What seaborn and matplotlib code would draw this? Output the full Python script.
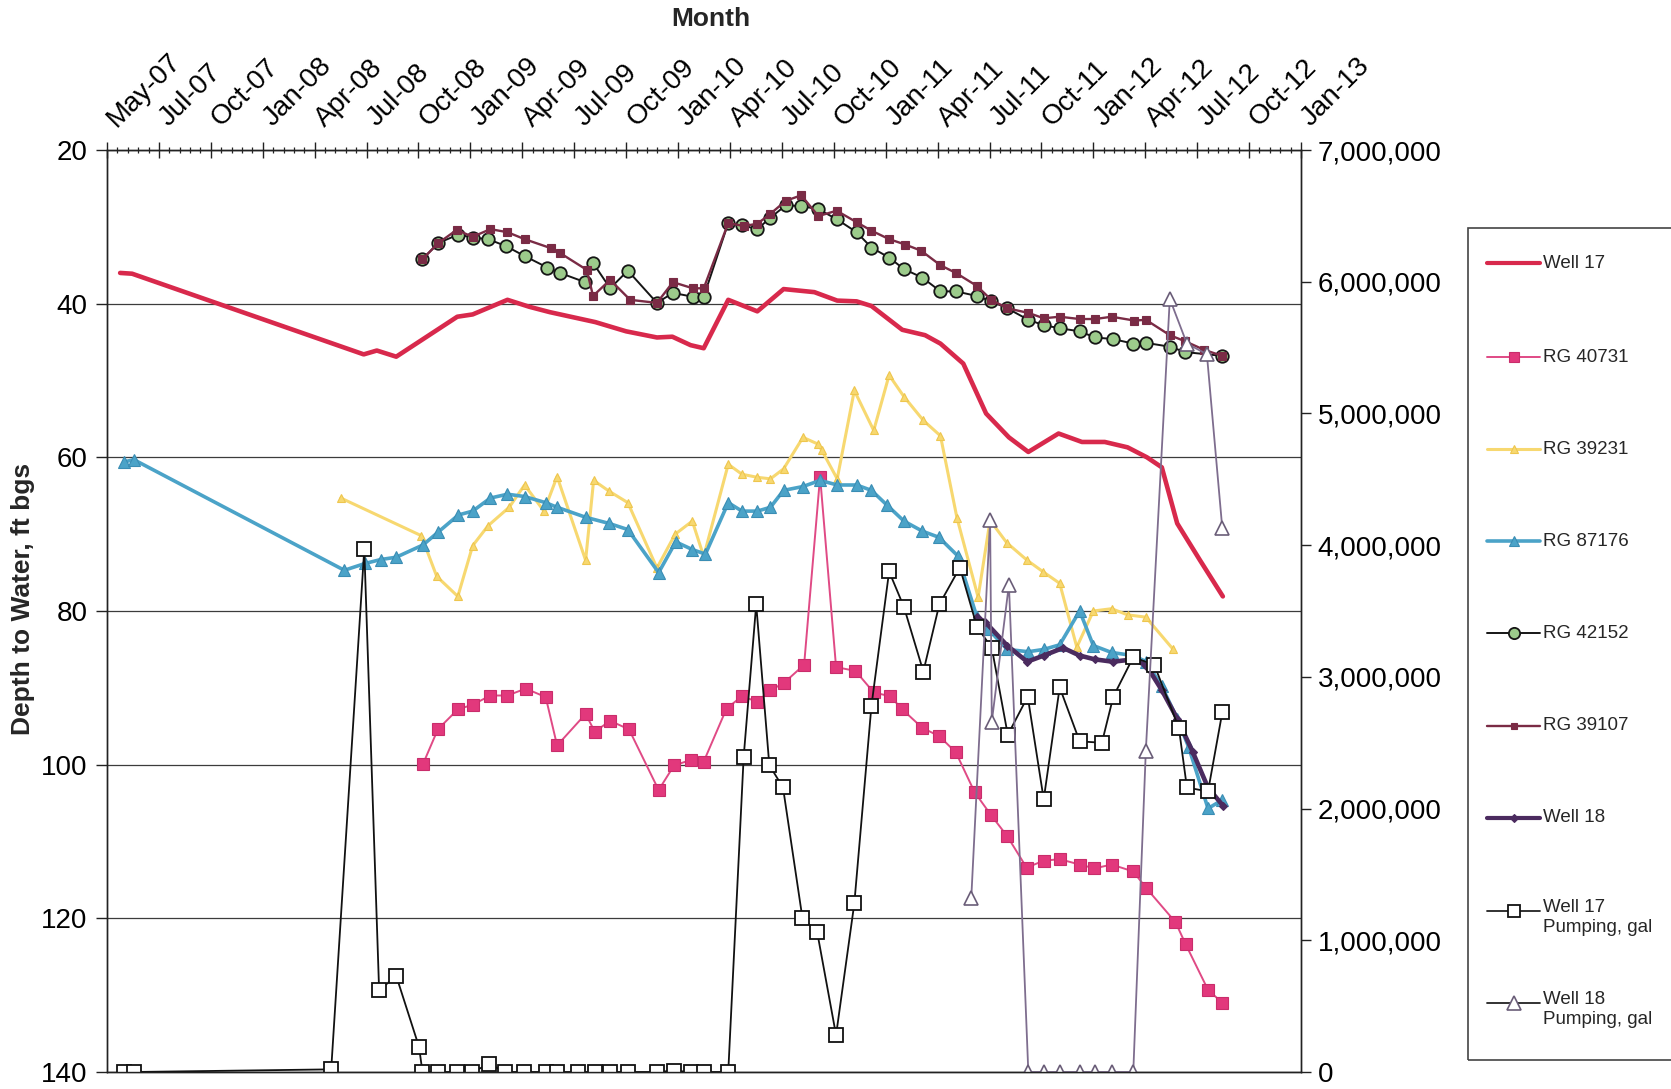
import numpy as np
import pandas as pd
import matplotlib
matplotlib.use("Agg")
import matplotlib.pyplot as plt
import matplotlib.dates as mdates
import matplotlib.transforms as mtransforms
from matplotlib.lines import Line2D
from matplotlib.patches import Rectangle
from matplotlib.ticker import FixedLocator, FuncFormatter
import seaborn as sns

# ---------------------------------------------------------------- data
START = "2007-05-01"          # first tick of the Month axis; x values are days after it
TICK_STEP_DAYS = 91           # Excel date axis major unit
MINOR_PER_MAJOR = 5
TICK_LABELS = ["May-07", "Jul-07", "Oct-07", "Jan-08", "Apr-08", "Jul-08", "Oct-08",
               "Jan-09", "Apr-09", "Jul-09", "Oct-09", "Jan-10", "Apr-10", "Jul-10",
               "Oct-10", "Jan-11", "Apr-11", "Jul-11", "Oct-11", "Jan-12", "Apr-12",
               "Jul-12", "Oct-12", "Jan-13"]
DEPTH_TICKS = [20, 40, 60, 80, 100, 120, 140]
GAL_TICKS = [0, 1000000, 2000000, 3000000, 4000000, 5000000, 6000000, 7000000]

well17_day = [23, 44, 450, 473, 507, 614, 641, 702, 740, 776, 856, 910, 964, 991, 1023, 1046,
              1089, 1140, 1186, 1240, 1280, 1314, 1340, 1394, 1434, 1461, 1501, 1541, 1581,
              1615, 1668, 1709, 1749, 1789, 1823, 1849, 1876, 1916, 1956]
well17_depth = [36.0, 36.1, 46.6, 46.1, 46.9, 41.7, 41.4, 39.5, 40.4, 41.1, 42.4, 43.6, 44.4,
                44.3, 45.4, 45.8, 39.5, 41.0, 38.1, 38.5, 39.6, 39.7, 40.3, 43.4, 44.1, 45.2,
                47.8, 54.3, 57.4, 59.3, 56.9, 58.0, 58.0, 58.7, 60.0, 61.3, 68.6, 73.4, 78.1]

rg40731_day = [554, 580, 615, 641, 672, 702, 734, 769, 789, 839, 855, 882, 915, 967, 994, 1023,
               1046, 1086, 1113, 1140, 1163, 1186, 1222, 1250, 1278, 1312, 1344, 1373, 1394,
               1429, 1459, 1488, 1521, 1550, 1578, 1612, 1642, 1670, 1705, 1731, 1761, 1799,
               1821, 1873, 1891, 1930, 1955]
rg40731_depth = [99.9, 95.4, 92.8, 92.2, 91.0, 91.0, 90.1, 91.2, 97.5, 93.4, 95.7, 94.3, 95.4,
                 103.3, 100.1, 99.4, 99.6, 92.7, 91.1, 91.8, 90.3, 89.4, 87.0, 62.5, 87.3, 87.8,
                 90.6, 91.1, 92.8, 95.2, 96.3, 98.4, 103.6, 106.6, 109.3, 113.4, 112.5, 112.3,
                 113.0, 113.5, 113.0, 113.9, 116.0, 120.5, 123.4, 129.3, 131.0]

rg39231_day = [410, 551, 578, 615, 641, 668, 705, 732, 766, 789, 839, 853, 880, 913, 964, 996,
               1026, 1046, 1089, 1113, 1140, 1163, 1186, 1220, 1247, 1253, 1280, 1310, 1344,
               1371, 1397, 1431, 1461, 1490, 1527, 1548, 1577, 1613, 1641, 1670, 1700, 1729,
               1761, 1789, 1821, 1869]
rg39231_depth = [65.3, 70.2, 75.5, 78.1, 71.5, 68.9, 66.5, 63.6, 67.0, 62.5, 73.4, 63.0, 64.4,
                 65.9, 74.4, 70.0, 68.3, 72.9, 60.9, 62.2, 62.6, 62.8, 61.5, 57.4, 58.3, 59.1,
                 62.8, 51.3, 56.5, 49.3, 52.1, 55.2, 57.2, 67.9, 78.2, 68.2, 71.1, 73.4, 74.9,
                 76.4, 84.7, 80.0, 79.7, 80.5, 80.8, 85.0]

rg87176_day = [30, 47, 416, 453, 480, 507, 554, 581, 616, 641, 672, 702, 732, 769, 789, 839, 880,
               913, 967, 997, 1026, 1049, 1089, 1113, 1140, 1163, 1186, 1220, 1250, 1280, 1314,
               1340, 1367, 1397, 1429, 1458, 1491, 1525, 1545, 1578, 1615, 1642, 1670, 1705,
               1729, 1761, 1799, 1822, 1849, 1876, 1896, 1930, 1955]
rg87176_depth = [60.6, 60.3, 74.7, 73.8, 73.3, 73.0, 71.4, 69.7, 67.5, 67.0, 65.3, 64.8, 65.1,
                 65.9, 66.5, 67.8, 68.6, 69.4, 75.0, 71.0, 72.0, 72.6, 65.9, 67.0, 67.0, 66.5,
                 64.3, 63.8, 63.0, 63.6, 63.6, 64.3, 66.2, 68.3, 69.6, 70.4, 72.8, 80.8, 82.4,
                 85.0, 85.3, 85.0, 84.4, 80.0, 84.5, 85.4, 85.8, 86.6, 89.8, 94.0, 97.7, 105.7,
                 104.6]

rg42152_day = [553, 581, 616, 641, 668, 699, 732, 772, 794, 838, 852, 882, 913, 964, 992, 1027,
               1046, 1089, 1113, 1140, 1163, 1190, 1217, 1247, 1279, 1314, 1340, 1371, 1397,
               1429, 1461, 1488, 1525, 1550, 1578, 1615, 1642, 1670, 1705, 1732, 1763, 1799,
               1821, 1863, 1890, 1955]
rg42152_depth = [34.2, 32.1, 31.0, 31.4, 31.6, 32.5, 33.8, 35.3, 36.0, 37.2, 34.7, 38.0, 35.7,
                 39.9, 38.6, 39.1, 39.1, 29.5, 29.8, 30.3, 28.8, 27.2, 27.3, 27.7, 29.0, 30.7,
                 32.7, 34.0, 35.5, 36.6, 38.4, 38.4, 39.0, 39.7, 40.6, 42.1, 42.8, 43.2, 43.6,
                 44.4, 44.6, 45.2, 45.1, 45.6, 46.3, 46.8]

rg39107_day = [553, 581, 613, 641, 672, 702, 732, 779, 794, 841, 852, 882, 917, 964, 992, 1027,
               1046, 1089, 1116, 1140, 1163, 1190, 1217, 1247, 1279, 1314, 1340, 1371, 1399,
               1427, 1461, 1488, 1525, 1550, 1578, 1615, 1642, 1670, 1705, 1732, 1761, 1801,
               1821, 1863, 1890, 1923, 1955]
rg39107_depth = [34.2, 32.1, 30.4, 31.3, 30.3, 30.7, 31.6, 32.8, 33.4, 35.6, 39.0, 36.9, 39.5,
                 39.9, 37.2, 38.0, 38.0, 29.5, 29.9, 29.6, 28.3, 26.6, 25.9, 28.6, 27.9, 29.4,
                 30.5, 31.6, 32.3, 33.1, 35.0, 36.0, 37.7, 39.5, 40.6, 41.2, 41.9, 41.7, 42.0,
                 42.0, 41.7, 42.2, 42.1, 44.1, 44.9, 46.0, 46.8]

well18_day = [1525, 1539, 1578, 1613, 1642, 1676, 1705, 1732, 1763, 1799, 1822, 1849, 1876,
              1903, 1930, 1957]
well18_depth = [80.8, 81.4, 84.5, 86.6, 85.8, 84.8, 85.8, 86.3, 86.6, 86.3, 87.1, 90.3, 94.0,
                98.3, 103.0, 105.4]

well17_pump_day = [29, 47, 393, 451, 477, 507, 547, 553, 580, 613, 640, 670, 698, 731, 769, 788,
                   826, 855, 882, 913, 964, 994, 1023, 1046, 1089, 1116, 1138, 1161, 1185, 1219,
                   1245, 1278, 1310, 1340, 1371, 1397, 1431, 1459, 1495, 1525, 1551, 1579, 1614,
                   1642, 1670, 1705, 1744, 1764, 1799, 1836, 1879, 1893, 1930, 1955]
well17_pump_gal = [0, 0, 20000, 3970000, 620000, 730000, 190000, 0, 0, 0, 0, 60000, 0, 0, 0, 0,
                   0, 0, 0, 0, 0, 10000, 0, 0, 0, 2390000, 3550000, 2330000, 2160000, 1170000,
                   1060000, 280000, 1280000, 2780000, 3800000, 3530000, 3040000, 3550000,
                   3830000, 3380000, 3220000, 2560000, 2850000, 2070000, 2920000, 2510000,
                   2500000, 2850000, 3150000, 3090000, 2610000, 2160000, 2130000, 2730000]

well18_pump_day = [1515, 1548, 1551, 1581, 1615, 1642, 1670, 1705, 1732, 1762, 1799, 1821, 1863,
                   1893, 1928, 1955]
well18_pump_gal = [1320000, 4190000, 2660000, 3700000, 0, 0, 0, 0, 0, 0, 0, 2440000, 5870000,
                   5530000, 5450000, 4130000]

# ---------------------------------------------------------------- style
sns.set_style("ticks")
plt.rcParams['font.family'] = ['Liberation Sans', 'DejaVu Sans']

W, H = 1671, 1089
fig = plt.figure(figsize=(W / 100, H / 100), dpi=100)
ax = fig.add_axes([107 / W, 1 - 1072 / H, 1194 / W, 922 / H])
ax2 = ax.twinx()

t0 = pd.Timestamp(START)


def frame(days, vals):
    return pd.DataFrame({"date": t0 + pd.to_timedelta(np.asarray(days), unit="D"),
                         "val": vals})


series = [
    # name, days, values, axis, style
    ("Well 17", well17_day, well17_depth, ax,
     dict(color="#d8294c", lw=3.3, marker=None)),
    ("RG 40731", rg40731_day, rg40731_depth, ax,
     dict(color="#e04a85", lw=1.4, marker="s", ms=8.5, mfc="#e2387c", mec="#c92d6b", mew=0.8)),
    ("RG 39231", rg39231_day, rg39231_depth, ax,
     dict(color="#f7d870", lw=2.2, marker="^", ms=6, mfc="#f7d870", mec="#eec64e", mew=0.8)),
    ("RG 87176", rg87176_day, rg87176_depth, ax,
     dict(color="#4ba3c8", lw=2.6, marker="^", ms=8.5, mfc="#4ba3c8", mec="#3a8db4", mew=0.8)),
    ("RG 42152", rg42152_day, rg42152_depth, ax,
     dict(color="#151515", lw=1.4, marker="o", ms=9, mfc="#9ccb8b", mec="#151515", mew=1.3)),
    ("RG 39107", rg39107_day, rg39107_depth, ax,
     dict(color="#7a2b45", lw=1.7, marker="s", ms=5.5, mfc="#7a2b45", mec="#7a2b45", mew=0.8)),
    ("Well 18", well18_day, well18_depth, ax,
     dict(color="#4b2b5f", lw=3.3, marker="D", ms=4, mfc="#4b2b5f", mec="#4b2b5f", mew=0.8)),
    ("Well 17\nPumping, gal", well17_pump_day, well17_pump_gal, ax2,
     dict(color="#111111", lw=1.3, marker="s", ms=9.5, mfc="white", mec="#111111", mew=1.3)),
    ("Well 18\nPumping, gal", well18_pump_day, well18_pump_gal, ax2,
     dict(color="#7e6d8e", lw=1.3, marker="^", ms=10.5, mfc="white", mec="#6a5d78", mew=1.2)),
]

for name, d, v, a, st in series:
    kw = dict(color=st["color"], linewidth=st["lw"])
    if st["marker"]:
        kw.update(marker=st["marker"], markersize=st["ms"], markerfacecolor=st["mfc"],
                  markeredgecolor=st["mec"], markeredgewidth=st["mew"])
    sns.lineplot(data=frame(d, v), x="date", y="val", ax=a, estimator=None, sort=False,
                 legend=False, **kw)

# ---------------------------------------------------------------- axes
n_major = len(TICK_LABELS)
major_dates = t0 + pd.to_timedelta(np.arange(n_major) * TICK_STEP_DAYS, unit="D")
minor_dates = t0 + pd.to_timedelta(
    np.arange((n_major - 1) * MINOR_PER_MAJOR + 1) * TICK_STEP_DAYS / MINOR_PER_MAJOR, unit="D")
major_num = mdates.date2num(major_dates.to_pydatetime())
minor_num = mdates.date2num(minor_dates.to_pydatetime())

ax.xaxis.tick_top()
ax.xaxis.set_label_position("top")
ax.set_xticks(major_num, labels=TICK_LABELS, rotation=45, ha="left", va="baseline",
              rotation_mode="anchor")
ax.xaxis.set_minor_locator(FixedLocator(minor_num))
ax.set_xlim(major_num[0], major_num[-1])

ax.set_ylim(DEPTH_TICKS[-1], DEPTH_TICKS[0])
ax.set_yticks(DEPTH_TICKS)
ax2.set_ylim(GAL_TICKS[0], GAL_TICKS[-1])
ax2.set_yticks(GAL_TICKS)
ax2.yaxis.set_major_formatter(FuncFormatter(lambda v, p: f"{int(round(v)):,}"))

ax.yaxis.grid(True, color="#3c3c3c", linewidth=0.9)
ax.xaxis.grid(False)
ax2.grid(False)
ax.set_axisbelow(True)

for a in (ax, ax2):
    for s in a.spines.values():
        s.set_color("#222222")
        s.set_linewidth(1.0)

ax.tick_params(axis="x", which="major", direction="inout", length=11, width=1.0,
               colors="#222222", labelsize=20, pad=10, labelcolor="black")
ax.tick_params(axis="x", which="minor", direction="inout", length=4, width=0.9,
               colors="#222222", top=True, bottom=False)
ax.tick_params(axis="y", which="major", direction="out", length=8, width=1.0,
               colors="#222222", labelsize=20, pad=6, labelcolor="black")
ax2.tick_params(axis="y", which="major", direction="out", length=7, width=1.0,
                colors="#222222", labelsize=20, pad=5, labelcolor="black")

# nudge the slanted month labels so each one starts right at its tick
shift = mtransforms.ScaledTranslation(0.10, 0.01, fig.dpi_scale_trans)
for lbl in ax.get_xticklabels():
    lbl.set_transform(lbl.get_transform() + shift)

ax.set_xlabel("Month", fontsize=19, fontweight="bold")
ax.xaxis.set_label_coords(0.506, 1.142)
ax.xaxis.label.set_va("center")
ax.set_ylabel("Depth to Water, ft bgs", fontsize=19, fontweight="bold")
ax.yaxis.set_label_coords(-0.070, 0.513)
ax.yaxis.label.set_va("center")
ax2.set_ylabel("")

# ---------------------------------------------------------------- legend (boxed, at right)
fig.add_artist(Rectangle((1468 / W, 1 - 1060 / H), (1720 - 1468) / W, (1060 - 228) / H,
                         transform=fig.transFigure, fill=False, edgecolor="#444444",
                         linewidth=1.2, clip_on=False))
leg_y = [263, 357, 449, 541, 633, 726, 818, 911, 1003]
x0, x1 = 1487, 1540
for (name, d, v, a, st), yy in zip(series, leg_y):
    line = Line2D([x0 / W, (x0 + x1) / 2 / W, x1 / W], [1 - yy / H] * 3,
                  transform=fig.transFigure, color=st["color"] if a is ax else "#222222",
                  linewidth=min(st["lw"], 3.0))
    if st["marker"]:
        line.set_marker(st["marker"])
        line.set_markevery([1])
        line.set_markersize(st["ms"] * 0.9)
        line.set_markerfacecolor(st["mfc"])
        line.set_markeredgecolor(st["mec"])
        line.set_markeredgewidth(st["mew"])
    fig.add_artist(line)
    if "\n" in name:
        fig.text(1543 / W, 1 - (yy - 12) / H, name, ha="left", va="top", fontsize=13.5,
                 linespacing=1.25)
    else:
        fig.text(1543 / W, 1 - yy / H, name, ha="left", va="center", fontsize=13.5)

fig.savefig("out.png", dpi=100, facecolor="white")
